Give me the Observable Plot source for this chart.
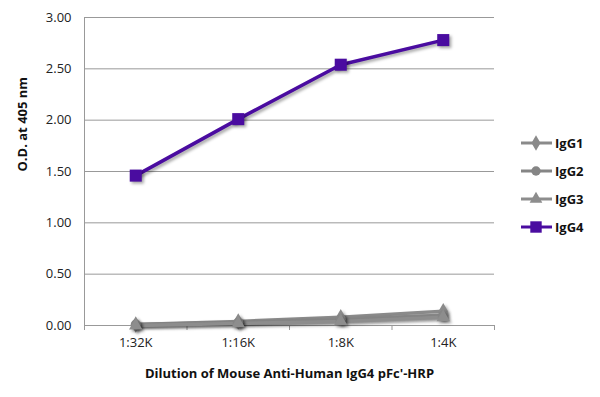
<!DOCTYPE html>
<html><head><meta charset="utf-8">
<script src="https://cdn.jsdelivr.net/npm/d3@7"></script>
<script src="https://cdn.jsdelivr.net/npm/@observablehq/plot@0.6"></script>
<style>
body{margin:0;background:#fff;font-family:"Open Sans",sans-serif;}
#wrap{position:relative;width:600px;height:397px;}
#legend{position:absolute;left:518px;top:131px;}
.shadow path{filter:drop-shadow(2px 2px 1.5px rgba(0,0,0,0.35));}
</style></head>
<body><div id="wrap"><div id="chart"></div><div id="legend"></div></div>
<script>
const dilutions = ["1:32K","1:16K","1:8K","1:4K"];
const seriesNames = ["IgG1","IgG2","IgG3","IgG4"];
const igg1 = [0.01,0.04,0.08,0.14];
const igg2 = [0.01,0.03,0.06,0.10];
const igg3 = [0.00,0.02,0.04,0.08];
const igg4 = [1.46,2.01,2.54,2.78];
const yTicks = [0,0.5,1,1.5,2,2.5,3];

const seriesVals = [igg1,igg2,igg3,igg4];
const colors = {IgG1:"#8a8a8a",IgG2:"#858585",IgG3:"#8d8d8d",IgG4:"#4a0ca0"};
const symbols = {IgG1:"diamond",IgG2:"circle",IgG3:"triangle",IgG4:"square"};
const radii = {IgG1:5,IgG2:5,IgG3:5,IgG4:6.8};
const data = [];
seriesNames.forEach((s,si)=>seriesVals[si].forEach((v,i)=>data.push({series:s,i,value:v})));
const grey = data.filter(d=>d.series!=="IgG4");
const purple = data.filter(d=>d.series==="IgG4");
const bounds = d3.range(dilutions.length+1).map(k=>k-0.5);

const chart = Plot.plot({
  width:600,height:397,
  marginLeft:84,marginRight:106,marginTop:17,marginBottom:72,
  style:{fontFamily:"Open Sans, sans-serif",fontSize:"12px",color:"#222"},
  x:{type:"linear",domain:[-0.5,dilutions.length-0.5]},
  y:{domain:[0,3]},
  marks:[
    Plot.gridY(yTicks,{stroke:"#999",strokeOpacity:1,strokeWidth:1}),
    Plot.ruleX([-0.5],{y1:0,y2:3,stroke:"#999"}),
    Plot.axisY(yTicks,{tickSize:0,tickPadding:13,tickFormat:d=>d.toFixed(2),fontSize:13,label:null}),
    Plot.axisX(bounds,{tickSize:5,tickFormat:()=>"",stroke:"#999",label:null}),
    Plot.axisX(d3.range(dilutions.length),{tickSize:0,tickPadding:12,tickFormat:i=>dilutions[i],fontSize:13,label:null}),
    Plot.ruleY([0],{stroke:"#999"}),
    Plot.line(grey,{x:"i",y:"value",z:"series",stroke:d=>colors[d.series],strokeWidth:3.5,className:"shadow"}),
    Plot.dot(grey,{x:"i",y:"value",symbol:d=>symbols[d.series],r:d=>radii[d.series],fill:d=>colors[d.series],className:"shadow"}),
    Plot.line(purple,{x:"i",y:"value",stroke:colors.IgG4,strokeWidth:3.5,className:"shadow"}),
    Plot.dot(purple,{x:"i",y:"value",symbol:"square",r:radii.IgG4,fill:colors.IgG4,className:"shadow"}),
    Plot.text(["O.D. at 405 nm"],{frameAnchor:"left",dx:-62,rotate:-90,fontWeight:"bold",fontSize:13,fill:"#111"}),
    Plot.text(["Dilution of Mouse Anti-Human IgG4 pFc'-HRP"],{frameAnchor:"bottom",dy:52,fontWeight:"bold",fontSize:13,fill:"#111"})
  ],
  symbol:{type:"identity"},
  r:{type:"identity"},
  color:{type:"identity"}
});
document.getElementById("chart").append(chart);

// legend
const lsvg = d3.select("#legend").append("svg").attr("width",82).attr("height",110)
  .style("font-family","Open Sans, sans-serif");
seriesNames.forEach((s,k)=>{
  const g = lsvg.append("g").attr("transform",`translate(0,${12+k*28})`);
  g.append("line").attr("x1",3).attr("x2",34).attr("stroke",colors[s]).attr("stroke-width",3);
  const size = s==="IgG4"?130:70;
  const sym = {diamond:d3.symbolDiamond,circle:d3.symbolCircle,triangle:d3.symbolTriangle,square:d3.symbolSquare}[symbols[s]];
  g.append("path").attr("transform","translate(18,0)").attr("d",d3.symbol(sym,size)()).attr("fill",colors[s]);
  g.append("text").attr("x",37).attr("y",5).attr("font-weight","bold").attr("font-size",13).attr("fill","#111").text(s);
});
</script></body></html>
